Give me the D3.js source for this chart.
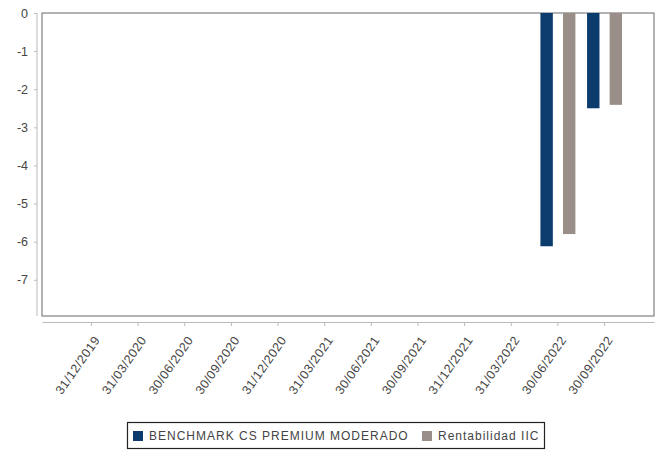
<!doctype html>
<html>
<head>
    <meta charset="UTF-8">
    <title>Rentabilidad</title>
    <script src="https://d3js.org/d3.v7.min.js"></script>
    <style>
        body { margin: 0; background: #fff; }
        text { font-family: "Liberation Sans", Arial, sans-serif; fill: #444; }
    </style>
</head>
<body>
    <script>
        var fechas = ["31/12/2019", "31/03/2020", "30/06/2020", "30/09/2020", "31/12/2020", "31/03/2021",
                      "30/06/2021", "30/09/2021", "31/12/2021", "31/03/2022", "30/06/2022", "30/09/2022"];
        var series = ["BENCHMARK CS PREMIUM MODERADO", "Rentabilidad IIC"];
        // null = sin dato
        var benchmark = [null, null, null, null, null, null, null, null, null, null, -6.12, -2.5];
        var rentabilidad = [null, null, null, null, null, null, null, null, null, null, -5.8, -2.41];
        var yTicks = [0, -1, -2, -3, -4, -5, -6, -7];
        var colores = ["#0b3c6d", "#9a8f88"];

        var w = 661, h = 452;
        var pL = 42, pR = 654, pT = 13, pB = 316;

        var svg = d3.select("body").append("svg")
            .attr("width", w)
            .attr("height", h);

        var x0 = d3.scaleBand()
            .domain(fechas)
            .range([pL, pR])
            .paddingInner(0.25)
            .paddingOuter(0.685);

        var x1 = d3.scaleBand()
            .domain(series)
            .range([0, x0.bandwidth()])
            .paddingInner(0.45);

        var y = d3.scaleLinear()
            .domain([-7.95, 0])
            .range([pB, pT]);

        //marco-----------------------
        svg.append("rect")
            .attr("x", pL)
            .attr("y", pT)
            .attr("width", pR - pL)
            .attr("height", pB - pT)
            .attr("fill", "none")
            .attr("stroke", "#8a8a8a")
            .attr("stroke-width", 1.3);

        //eje y-----------------------
        var yAxis = svg.append("g")
            .attr("transform", "translate(37,0)")
            .call(d3.axisLeft(y).tickValues(yTicks).tickFormat(function(d) { return String(d); })
                .tickSize(3).tickPadding(6).tickSizeOuter(0));
        yAxis.select(".domain").attr("stroke", "#bbb").attr("d", "M0," + pT + "V" + pB);
        yAxis.selectAll(".tick line").attr("stroke", "#bbb");
        yAxis.selectAll("text")
            .style("font-size", "12.5px")
            .style("fill", "#444");

        //eje x-----------------------
        var xAxis = svg.append("g")
            .attr("transform", "translate(0,322)")
            .call(d3.axisBottom(x0).tickSize(4).tickSizeOuter(0));
        xAxis.select(".domain").attr("stroke", "#bbb");
        xAxis.selectAll(".tick line").attr("stroke", "#bbb");
        xAxis.selectAll("text")
            .attr("text-anchor", "end")
            .attr("dy", null)
            .attr("y", null)
            .attr("transform", "translate(9,18) rotate(-55)")
            .style("font-size", "12.5px")
            .style("letter-spacing", "0.5px")
            .style("fill", "#444");

        //barras-----------------------
        var datos = [];
        fechas.forEach(function(f, i) {
            [benchmark[i], rentabilidad[i]].forEach(function(v, j) {
                if (v !== null) datos.push({ fecha: f, serie: series[j], valor: v, c: colores[j] });
            });
        });

        svg.append("g").selectAll("rect")
            .data(datos)
            .enter()
            .append("rect")
            .attr("x", function(d) { return x0(d.fecha) + x1(d.serie); })
            .attr("y", y(0))
            .attr("width", x1.bandwidth())
            .attr("height", function(d) { return y(d.valor) - y(0); })
            .attr("fill", function(d) { return d.c; });

        //leyenda-----------------------
        var ley = svg.append("g");
        ley.append("rect")
            .attr("x", 127.5).attr("y", 422.5)
            .attr("width", 417).attr("height", 26)
            .attr("fill", "#fff").attr("stroke", "#222").attr("stroke-width", 1.2);

        var posX = [133, 422];
        series.forEach(function(s, i) {
            ley.append("rect")
                .attr("x", posX[i]).attr("y", 431)
                .attr("width", 10).attr("height", 10)
                .attr("fill", colores[i]);
            ley.append("text")
                .attr("x", posX[i] + 16).attr("y", 440)
                .style("font-size", "12px")
                .style("letter-spacing", "1px")
                .style("fill", "#444")
                .text(s);
        });
    </script>
</body>
</html>
